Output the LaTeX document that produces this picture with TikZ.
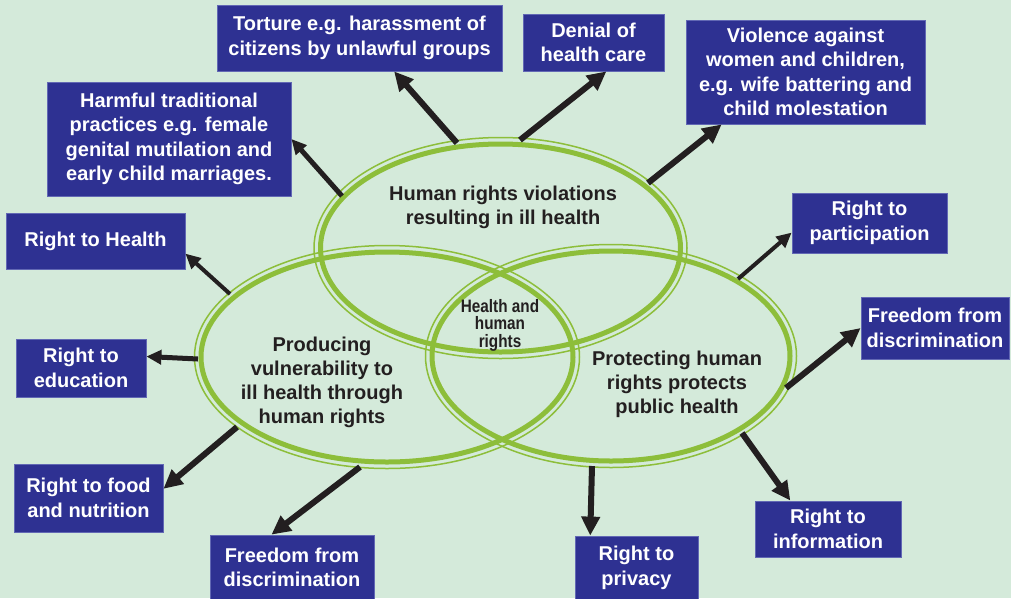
\documentclass[tikz,border=0pt]{standalone}
\usepackage{fontspec}
\setmainfont{Liberation Sans}
\newfontfamily\narrowfont[FakeStretch=0.85]{Liberation Sans}
\usepackage{tikz}
\usetikzlibrary{arrows.meta,calc,positioning}
\definecolor{bgmint}{RGB}{212,234,218}
\definecolor{boxblue}{RGB}{46,49,146}
\definecolor{boxedge}{RGB}{98,104,180}
\definecolor{ringgreen}{RGB}{141,190,58}
\definecolor{inkdark}{RGB}{35,31,32}

\tikzset{
  box/.style={fill=boxblue, draw=boxedge, line width=0.8pt, text=white, align=center,
    inner sep=0pt, font=\fontsize{20}{24.5}\selectfont\bfseries},
  ringtext/.style={text=inkdark, align=center, font=\fontsize{20}{24}\selectfont\bfseries},
  ring/.style={draw=ringgreen, line width=5pt},
  ringout/.style={draw=ringgreen, line width=1.5pt},
  link/.style={draw=inkdark, line width=6pt, -{Triangle[length=19pt,width=18pt]}},
  linkthin/.style={draw=inkdark, line width=4pt, -{Triangle[length=15pt,width=14pt]}},
}

\begin{document}
\begin{tikzpicture}[x=1pt,y=-1pt]
  \useasboundingbox (0,0) rectangle (1011,598);
  \fill[bgmint] (0,0) rectangle (1011,598);

  % the three rings
  \coordinate (top) at (500.5,248);
  \coordinate (lft) at (387,357);
  \coordinate (rgt) at (611,356);
  \draw[ring] (top) ellipse [x radius=180pt, y radius=104pt];
  \draw[ringout] (top) ellipse [x radius=186.5pt, y radius=110.5pt];
  \draw[ring] (lft) ellipse [x radius=186pt, y radius=105pt];
  \draw[ringout] (lft) ellipse [x radius=192.5pt, y radius=111.5pt];
  \draw[ring] (rgt) ellipse [x radius=179pt, y radius=105pt];
  \draw[ringout] (rgt) ellipse [x radius=185.5pt, y radius=111.5pt];

  \node[ringtext] (violations) at (503,207) {Human rights violations\\resulting in ill health};
  \node[ringtext] (vulnerable) at (322,382) {Producing\\vulnerability to\\ill health through\\human rights};
  \node[ringtext] (protecting) at (677,384) {Protecting human\\rights protects\\public health};
  \node[text=inkdark, align=center, font=\narrowfont\fontsize{18}{17.5}\selectfont\bfseries] (core) at (500,325) {Health and\\human\\rights};

  % boxes
  \node[box, minimum width=285pt, minimum height=66pt] (torture) at (359.5,38) {Torture e.g. harassment of\\citizens by unlawful groups};
  \node[box, minimum width=141pt, minimum height=57pt] (denial) at (593.5,42.5) {Denial of\\health care};
  \node[box, minimum width=239pt, minimum height=104pt] (violence) at (805.5,72) {Violence against\\women and children,\\e.g. wife battering and\\child molestation};
  \node[box, minimum width=244pt, minimum height=114pt] (harmful) at (169,139) {Harmful traditional\\practices e.g. female\\genital mutilation and\\early child marriages.};
  \node[box, minimum width=179pt, minimum height=56pt] (health) at (95.5,241) {Right to Health};
  \node[box, minimum width=155pt, minimum height=60pt] (participation) at (869.5,223) {Right to\\participation};
  \node[box, minimum width=148pt, minimum height=62pt] (freeR) at (935,328) {Freedom from\\discrimination};
  \node[box, minimum width=130pt, minimum height=58pt] (education) at (81,368) {Right to\\education};
  \node[box, minimum width=149pt, minimum height=68pt] (food) at (88.5,498) {Right to food\\and nutrition};
  \node[box, minimum width=164pt, minimum height=65pt] (freeB) at (292,567.5) {Freedom from\\discrimination};
  \node[box, minimum width=123pt, minimum height=64pt] (privacy) at (636.5,568) {Right to\\privacy};
  \node[box, minimum width=146pt, minimum height=56pt] (information) at (828,529) {Right to\\information};

  % arrow tails on the rings
  \coordinate (tTorture) at (457,143);
  \coordinate (tDenial) at (520,140);
  \coordinate (tViolence) at (648,183);
  \coordinate (tHarmful) at (342,196);
  \coordinate (tHealth) at (230,294);
  \coordinate (tPart) at (738,279);
  \coordinate (tFreeR) at (786,388);
  \coordinate (tEdu) at (198,359);
  \coordinate (tFood) at (237,427);
  \coordinate (tFreeB) at (360,467);
  \coordinate (tPrivacy) at (592,466);
  \coordinate (tInfo) at (742,433);

  \draw[link] (tTorture) -- (torture.-44);
  \draw[link] (tDenial) -- (denial.-66);
  \draw[link] (tViolence) -- (violence.-148);
  \draw[linkthin, line width=5pt] (tHarmful) -- (harmful.east);
  \draw[linkthin] (tHealth) -- (health.-8);
  \draw[linkthin] (tPart) -- (participation.-173);
  \draw[link] (tFreeR) -- (freeR.west);
  \draw[linkthin, line width=5pt] (tEdu) -- (education.10);
  \draw[link] (tFood) -- (food.7);
  \draw[link] (tFreeB) -- (freeB.122);
  \draw[link] (tPrivacy) -- (privacy.145);
  \draw[link] (tInfo) -- (information.143);
\end{tikzpicture}
\end{document}
